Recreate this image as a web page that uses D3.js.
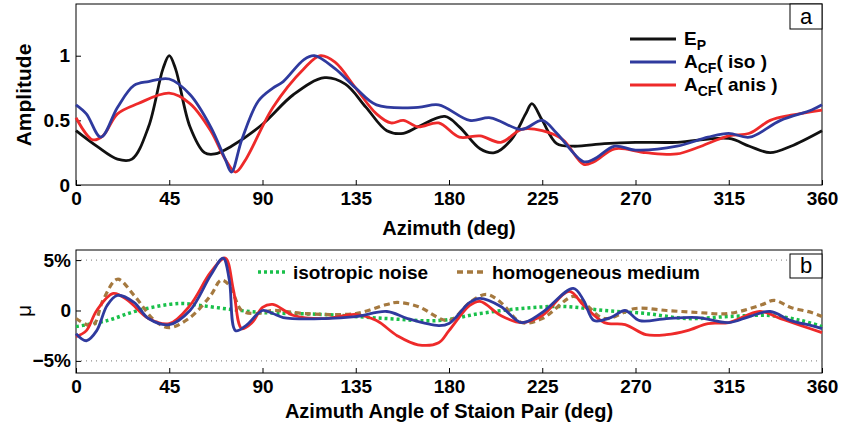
<!DOCTYPE html>
<html><head><meta charset="utf-8">
<script src="https://cdn.jsdelivr.net/npm/d3@7"></script>
<style>body{margin:0;background:#fff}text{font-family:"Liberation Sans",Arial,sans-serif;font-weight:bold}text.plain{font-weight:normal}</style>
</head><body><svg id="c" width="846" height="437"></svg>
<script>
const xTicks = [0, 45, 90, 135, 180, 225, 270, 315, 360];
const epData = [[0,0.42],[10,0.3],[20,0.2],[27,0.2],[35,0.45],[42,0.9],[45,1.0],[48,0.9],[55,0.45],[62,0.25],[67,0.24],[75,0.3],[90,0.47],[105,0.7],[120,0.83],[130,0.78],[140,0.6],[150,0.42],[158,0.4],[165,0.45],[178,0.53],[185,0.45],[195,0.28],[202,0.25],[210,0.35],[217,0.55],[220,0.63],[225,0.5],[232,0.32],[240,0.3],[255,0.32],[270,0.33],[290,0.33],[315,0.36],[325,0.3],[335,0.25],[345,0.3],[360,0.42]];
const isoData = [[0,0.62],[5,0.55],[12,0.37],[20,0.6],[28,0.77],[35,0.8],[45,0.82],[55,0.7],[65,0.45],[72,0.2],[75,0.1],[80,0.35],[88,0.65],[95,0.75],[100,0.8],[110,0.97],[115,1.0],[125,0.9],[135,0.75],[145,0.62],[165,0.6],[175,0.62],[190,0.5],[200,0.52],[215,0.43],[225,0.5],[232,0.4],[245,0.18],[250,0.2],[260,0.3],[270,0.27],[290,0.3],[305,0.37],[315,0.4],[325,0.37],[340,0.5],[355,0.58],[360,0.62]];
const anisData = [[0,0.52],[8,0.35],[13,0.38],[20,0.55],[30,0.63],[45,0.71],[55,0.63],[65,0.42],[72,0.2],[77,0.1],[82,0.2],[95,0.6],[110,0.9],[118,1.0],[125,0.95],[135,0.75],[145,0.55],[152,0.48],[158,0.5],[165,0.45],[175,0.48],[185,0.37],[195,0.38],[205,0.33],[215,0.43],[225,0.42],[235,0.35],[245,0.16],[250,0.18],[260,0.28],[275,0.25],[290,0.24],[300,0.29],[315,0.38],[325,0.4],[335,0.5],[345,0.54],[360,0.58]];
const muAnis = [[0,-2.6],[5,-2],[10,0],[18,1.7],[25,1],[35,-0.8],[45,-1.3],[55,0.5],[65,3.8],[72,5.2],[76,2],[80,-1.8],[85,-1.2],[90,0.3],[95,0.6],[105,-0.5],[120,-0.8],[135,-0.4],[145,-1],[155,-2.5],[165,-3.4],[175,-3.2],[180,-2],[190,0.5],[195,0.9],[205,-0.5],[215,-1.2],[225,-0.5],[238,1.9],[245,0.5],[255,-1.2],[265,-1.4],[275,-2.4],[285,-2.4],[295,-2],[305,-1.3],[315,-1.2],[330,-0.1],[340,-0.8],[350,-1.5],[360,-2.2]];
const muIso = [[0,-2.3],[5,-3],[10,-2],[15,0.5],[20,1.5],[28,0.8],[35,-0.8],[45,-1.4],[55,0],[65,3.5],[71,5.2],[74,3],[77,-2],[82,-1.5],[90,0],[95,-0.3],[100,-0.7],[120,-0.8],[135,-0.6],[150,-0.1],[160,-0.8],[175,-1.5],[180,-1.3],[190,0.8],[195,1.2],[205,0.4],[215,-1.2],[225,-0.2],[240,2.2],[245,1],[250,-1],[258,-0.7],[265,0],[272,-1],[285,-0.8],[300,-0.7],[315,-1.2],[325,-0.6],[335,-0.1],[345,-1],[355,-1.5],[360,-1.8]];
const muNoise = [[0,-1.6],[15,-1],[30,0],[50,0.7],[60,0.5],[75,0.1],[90,-0.2],[120,-0.4],[150,-0.8],[175,-1],[195,-0.3],[215,0.2],[235,0.4],[255,0],[275,-0.3],[295,-0.8],[315,-0.6],[335,-0.5],[350,-1],[360,-1.6]];
const muHomo = [[0,-0.8],[8,-1.5],[13,1],[20,3.1],[28,1.5],[38,-1],[45,-1.7],[55,-0.7],[65,1.5],[70,3],[74,2.5],[80,0],[87,-0.3],[95,0],[110,-0.3],[135,-0.3],[150,0.6],[155,0.8],[165,0.4],[180,-1],[190,0.8],[198,1.6],[205,0.8],[215,-1.2],[225,-0.8],[240,1.4],[245,0.8],[255,-0.8],[270,0.2],[285,0],[300,-0.2],[315,-0.3],[330,0.5],[337,1],[345,0.3],[355,-0.2],[360,-0.6]];

const svg = d3.select("#c");
const x = d3.scaleLinear().domain([0, 360]).range([76, 822]);
const yA = d3.scaleLinear().domain([0, 1.4]).range([185, 4]);
const yB = d3.scaleLinear().domain([-6.2, 6]).range([373, 250]);

function frame(bottom, top) {
  svg.append("rect").attr("x", 76).attr("y", top).attr("width", 746).attr("height", bottom - top)
    .attr("fill", "none").attr("stroke", "#000").attr("stroke-width", 1);
  const ax = svg.append("g").attr("transform", `translate(0,${bottom})`)
    .call(d3.axisBottom(x).tickValues(xTicks).tickSize(-5).tickPadding(7));
  ax.select(".domain").remove();
  ax.selectAll("text").attr("font-size", 19).attr("fill", "#000");
}
frame(185, 4);
const ayA = svg.append("g").attr("transform", "translate(76,0)")
  .call(d3.axisLeft(yA).tickValues([0, 0.5, 1]).tickFormat(d3.format("")).tickSize(-5).tickPadding(6));
ayA.select(".domain").remove();
ayA.selectAll("text").attr("font-size", 19);

frame(373, 250);
[5, -5].forEach(v => svg.append("line").attr("x1", 76).attr("x2", 822).attr("y1", yB(v)).attr("y2", yB(v))
  .attr("stroke", "#777").attr("stroke-dasharray", "1,4"));
const ayB = svg.append("g").attr("transform", "translate(76,0)")
  .call(d3.axisLeft(yB).tickValues([-5, 0, 5]).tickFormat(d => d === 0 ? "0" : (d < 0 ? "\u22125%" : "5%")).tickSize(-5).tickPadding(5));
ayB.select(".domain").remove();
ayB.selectAll("text").attr("font-size", 19);

function draw(data, y, color, w, dash) {
  svg.append("path").datum(data)
    .attr("d", d3.line().x(d => x(d[0])).y(d => y(d[1])).curve(d3.curveCatmullRom))
    .attr("fill", "none").attr("stroke", color).attr("stroke-width", w)
    .attr("stroke-dasharray", dash || null);
}
draw(epData, yA, "#111", 2.8);
draw(anisData, yA, "#ee2a2a", 2.8);
draw(isoData, yA, "#2f3a9e", 2.8);
draw(muNoise, yB, "#19c04a", 3.5, "3,3");
draw(muHomo, yB, "#a5793f", 3.2, "6,4");
draw(muAnis, yB, "#ee2a2a", 2.8);
draw(muIso, yB, "#2f3a9e", 2.8);

// legends
const legA = [["E", "P", "", "#111"], ["A", "CF", "( iso )", "#2f3a9e"], ["A", "CF", "( anis )", "#ee2a2a"]];
legA.forEach((l, i) => {
  const yy = 39 + i * 23;
  svg.append("line").attr("x1", 630).attr("x2", 676).attr("y1", yy).attr("y2", yy).attr("stroke", l[3]).attr("stroke-width", 3);
  const t = svg.append("text").attr("x", 684).attr("y", yy + 6).attr("font-size", 19);
  t.append("tspan").text(l[0]);
  t.append("tspan").attr("dy", 5).attr("font-size", 14).text(l[1]);
  t.append("tspan").attr("dy", -5).text(l[2]);
});
svg.append("rect").attr("x", 790).attr("y", 4).attr("width", 32).attr("height", 25).attr("fill", "#fff").attr("stroke", "#000");
svg.append("text").attr("class", "plain").attr("x", 806).attr("y", 24).attr("text-anchor", "middle").attr("font-size", 22).text("a");
svg.append("rect").attr("x", 790).attr("y", 254).attr("width", 32).attr("height", 24).attr("fill", "#fff").attr("stroke", "#000");
svg.append("text").attr("class", "plain").attr("x", 806).attr("y", 273).attr("text-anchor", "middle").attr("font-size", 22).text("b");

[["isotropic noise", "#19c04a", "3,3", 258], ["homogeneous medium", "#a5793f", "6,4", 457]].forEach(l => {
  svg.append("line").attr("x1", l[3]).attr("x2", l[3] + 28).attr("y1", 272).attr("y2", 272)
    .attr("stroke", l[1]).attr("stroke-width", 3.5).attr("stroke-dasharray", l[2]);
  svg.append("text").attr("x", l[3] + 35).attr("y", 279).attr("font-size", 19).text(l[0]);
});

svg.append("text").attr("x", 449).attr("y", 235).attr("text-anchor", "middle").attr("font-size", 20).text("Azimuth (deg)");
svg.append("text").attr("x", 449).attr("y", 418).attr("text-anchor", "middle").attr("font-size", 20).text("Azimuth Angle of Staion Pair (deg)");
svg.append("text").attr("transform", "translate(31,95) rotate(-90)").attr("text-anchor", "middle").attr("font-size", 21).text("Amplitude");
svg.append("text").attr("class", "plain").attr("transform", "translate(31,311) rotate(-90)").attr("text-anchor", "middle").attr("font-size", 21).text("\u03bc");
</script></body></html>
